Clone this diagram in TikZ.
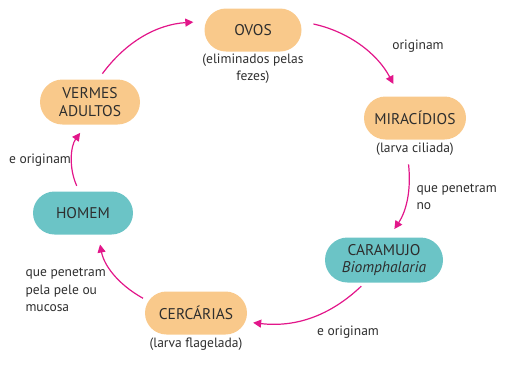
\documentclass[tikz,border=0pt]{standalone}
\usepackage{fontspec}
\setmainfont{PT Sans}
\usepackage{tikz}
\usetikzlibrary{arrows.meta, positioning}
\definecolor{ovo}{HTML}{F9C98B}
\definecolor{host}{HTML}{6BC4C6}
\definecolor{seta}{HTML}{E2168A}
\definecolor{texto}{HTML}{2E2E2E}

\begin{document}
\begin{tikzpicture}[x=1pt, y=1pt,
  stage/.style={rounded corners=21.5pt, minimum width=100pt, minimum height=43pt, align=center, font=\fontsize{15.5}{17.5}\selectfont, text=texto},
  larva/.style={stage, fill=ovo},
  host/.style={stage, fill=host},
  sub/.style={font=\fontsize{13.5}{17}\selectfont, text=texto, align=center},
  arrow/.style={-{Triangle[length=8pt, width=8pt]}, line width=1.2pt, draw=seta, bend left=25},
  label/.style={font=\fontsize{13.5}{17.5}\selectfont, text=texto, align=left}
]
\useasboundingbox (0,0) rectangle (512,-368);

% Stages of the cycle
\node[larva, minimum width=97pt] (ovos)      at (253,-30)  {OVOS};
\node[larva, minimum width=102pt] (miracidios) at (415,-118) {MIRACÍDIOS};
\node[host, minimum width=118pt, minimum height=45pt, rounded corners=22.5pt] (caramujo) at (384,-260) {CARAMUJO\\\textit{Biomphalaria}};
\node[larva, minimum width=102pt] (cercarias) at (196,-313) {CERCÁRIAS};
\node[host] (homem)      at (83,-213)  {HOMEM};
\node[larva, minimum height=45pt, rounded corners=22.5pt] (vermes) at (90,-102) {VERMES\\ADULTOS};

% Notes under the stages
\node[sub, below=-1pt of ovos]       (ovossub)  {(eliminados pelas\\fezes)};
\node[sub, below=0pt of miracidios] (mirasub)  {(larva ciliada)};
\node[sub, below=0pt of cercarias]  (cercsub)  {(larva flagelada)};

% Arrows of the cycle
\draw[arrow, shorten <=7pt, shorten >=11pt] (vermes.70) to (ovos.170);
\draw[arrow, shorten <=12pt, shorten >=14pt] (ovos.10) to (miracidios.125);
\draw[arrow, bend left=20, shorten <=5pt, shorten >=10pt] ([xshift=-7pt]mirasub.south) to (caramujo.78);
\draw[arrow, shorten <=5pt, shorten >=6pt] (caramujo.-130) to (cercarias.-10);
\draw[arrow, shorten <=2pt, shorten >=10pt] (cercarias.165) to (homem.-55);
\draw[arrow, bend left=30, shorten <=6pt, shorten >=10pt] (homem.100) to (vermes.-100);

% Arrow labels
\node[label] (lorig)  at (418,-46)  {originam};
\node[label, anchor=west] (lpen) at (413,-197) {que penetram\\no};
\node[label] (lorig2) at (348,-332) {e originam};
\node[label, anchor=west] (lpele) at (22,-290) {que penetram\\pela pele ou\\mucosa};
\node[label] (lorig3) at (40,-160)  {e originam};

\end{tikzpicture}
\end{document}
